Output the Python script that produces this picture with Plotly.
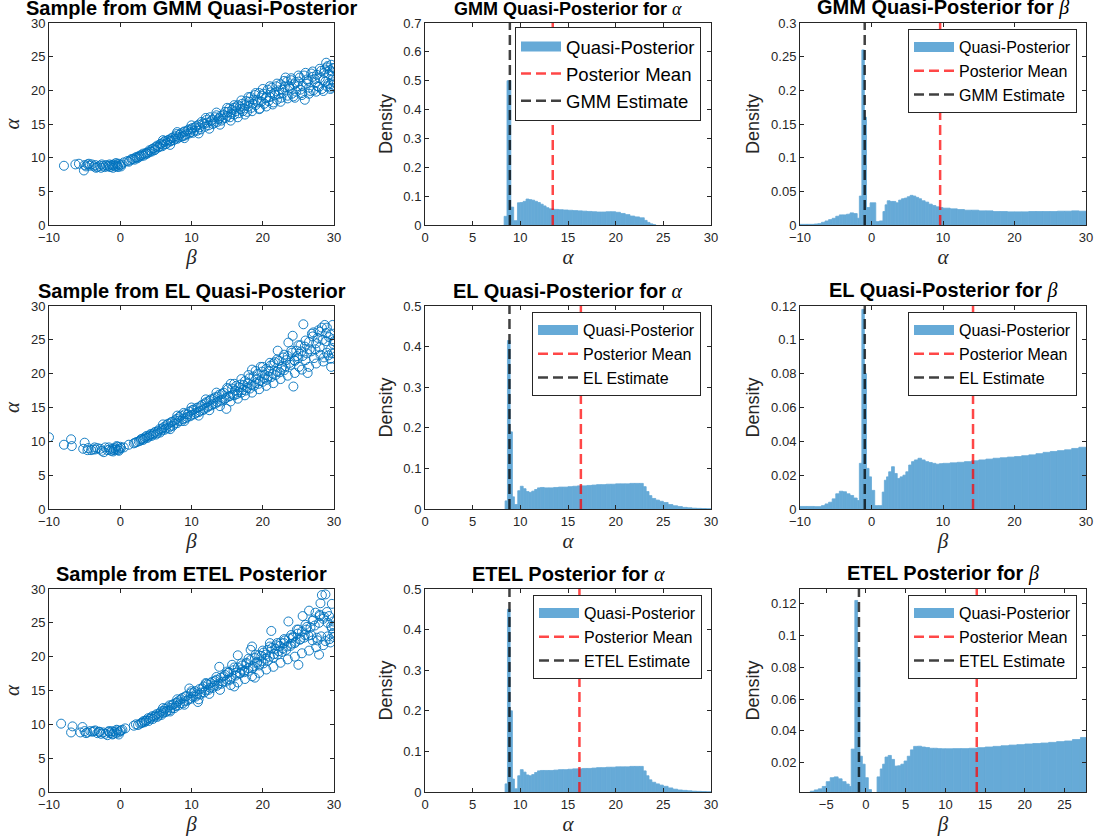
import plotly.graph_objects as go

# ---------------- scatter samples: (beta, alpha) ----------------
gmm_sample = [
    (-7.9, 8.8), (-6.3, 9.0), (-5.8, 9.1), (-5.1, 8.1), (-5.0, 8.9), (-4.8, 8.7), (-4.6, 9.0), (-4.3, 8.8),
    (-4.0, 9.0), (-3.7, 8.7), (-3.5, 8.9), (-3.2, 8.6), (-2.9, 8.8), (-2.7, 8.5), (-2.4, 8.8), (-2.2, 8.6),
    (-2.0, 8.9), (-1.8, 8.7), (-1.6, 8.8), (-1.4, 8.6), (-1.2, 8.9), (-1.0, 8.8), (-0.9, 9.0), (-0.7, 8.7),
    (-0.5, 9.0), (-0.4, 8.8), (-0.2, 9.1), (0.0, 8.9), (0.2, 9.0), (0.5, 9.3),
    (-1.5, 9.0), (-1.0, 8.5), (-0.6, 9.2), (-0.3, 8.6), (0.1, 8.7), (-2.6, 9.0), (-3.4, 8.5), (-4.4, 9.1),
    (1.0, 9.5), (1.4, 9.6), (1.8, 9.8), (2.1, 10.0), (2.4, 9.9), (2.7, 10.3), (3.0, 10.4), (3.3, 10.3),
    (3.6, 10.7), (3.9, 10.8), (4.2, 10.9), (4.5, 11.3), (4.8, 11.1), (5.0, 11.6), (5.3, 11.5), (5.6, 12.0),
    (5.9, 11.7), (6.1, 12.3), (6.4, 12.0), (6.7, 12.6), (7.0, 12.4), (7.2, 12.9), (7.5, 12.6), (7.8, 13.2),
    (8.0, 12.8), (8.3, 13.4), (8.6, 13.1), (8.9, 13.8), (9.1, 13.3), (9.4, 14.0), (9.7, 13.6), (10.0, 14.2),
    (10.2, 13.7), (10.5, 14.5), (10.8, 14.0), (11.0, 14.9), (11.3, 14.2), (11.6, 15.1), (11.9, 14.6), (12.1, 15.6),
    (12.4, 14.8), (12.7, 15.4), (13.0, 15.0), (13.3, 16.0), (13.6, 15.3), (13.9, 15.9), (14.2, 15.5), (14.5, 16.4),
    (14.8, 15.9), (15.1, 16.8), (15.4, 16.0), (15.7, 17.1), (16.0, 16.4), (16.3, 17.5), (16.6, 16.6), (16.9, 17.2),
    (17.2, 16.9), (17.5, 17.8), (17.8, 16.8), (18.1, 18.3), (18.4, 17.4), (18.7, 18.6), (19.0, 17.8), (19.3, 18.2),
    (19.6, 17.3), (19.9, 19.2), (20.2, 18.0), (20.5, 19.0), (20.8, 18.4), (21.1, 19.7), (21.4, 17.9), (21.7, 19.3),
    (22.0, 18.6), (22.3, 20.0), (22.6, 18.9), (22.9, 19.6), (23.2, 21.9), (23.5, 19.2), (23.8, 20.3), (24.1, 19.5),
    (24.4, 20.9), (24.7, 19.8), (25.0, 21.3), (25.3, 20.1), (25.6, 20.7), (25.9, 18.6), (26.2, 21.6), (26.5, 20.4),
    (26.8, 22.5), (27.1, 20.0), (27.4, 21.2), (27.7, 20.6), (28.0, 21.8), (28.3, 20.2), (28.6, 22.6), (28.9, 24.1),
    (29.2, 21.0), (29.4, 23.0), (29.6, 20.4), (29.8, 21.6), (29.9, 23.3), (29.7, 22.8), (29.5, 20.9), (29.1, 23.6),
    (28.8, 21.3),
    (1.2, 9.4), (1.6, 9.8), (2.0, 9.7), (2.3, 10.1), (2.6, 10.1), (2.9, 10.2), (3.2, 10.6), (3.5, 10.5),
    (3.8, 10.6), (4.1, 11.1), (4.4, 10.9), (4.7, 11.4), (4.9, 11.2), (5.2, 11.8), (5.5, 11.6), (5.8, 12.1),
    (6.0, 11.9), (6.3, 12.5), (6.6, 12.2), (6.9, 12.7), (7.1, 12.5), (7.4, 13.0), (7.7, 12.8), (7.9, 13.5),
    (8.2, 13.0), (8.5, 13.6), (8.8, 13.2), (9.0, 13.9), (9.3, 13.5), (9.6, 14.2), (9.9, 13.8), (10.1, 14.4),
    (10.4, 14.0), (10.7, 14.7), (11.1, 14.5), (11.4, 15.3), (11.8, 15.0), (12.2, 15.2), (12.6, 16.0), (12.9, 15.6),
    (13.2, 15.2), (13.5, 16.3), (13.8, 15.7), (14.1, 16.2), (14.4, 15.8), (14.7, 16.8), (15.0, 16.2), (15.3, 17.3),
    (15.6, 16.5), (15.9, 17.4), (16.2, 16.9), (16.5, 17.8), (16.8, 17.6), (17.1, 18.0), (17.4, 17.3), (17.7, 18.4),
    (18.0, 17.6), (18.3, 19.0), (18.6, 18.0), (18.9, 19.3), (19.2, 18.6), (19.5, 19.6), (19.8, 18.3), (20.1, 19.5),
    (20.4, 18.8), (20.7, 20.1), (21.0, 19.0), (21.3, 20.4), (21.6, 19.6), (21.9, 20.6), (22.2, 19.4), (22.5, 20.9),
    (22.8, 20.1), (23.1, 20.5), (23.4, 21.3), (23.7, 20.6), (24.0, 21.5), (24.3, 19.1), (24.6, 21.2), (24.9, 20.6),
    (25.2, 21.9), (25.5, 19.6), (25.8, 22.2), (26.1, 21.0), (26.4, 21.4), (26.7, 19.9), (27.0, 22.0), (27.3, 21.7),
    (27.6, 22.3), (27.9, 20.5), (28.2, 22.9), (28.5, 21.5), (28.7, 23.1), (29.0, 20.6), (29.3, 22.4), (29.6, 23.8),
    (29.9, 20.8), (29.8, 22.2),
    (6.0, 12.6), (7.0, 11.9), (8.0, 13.8), (9.0, 12.9), (10.0, 14.8), (11.0, 13.6), (12.0, 15.9), (12.5, 14.3),
    (13.5, 16.7), (14.0, 14.9), (15.0, 17.4), (15.5, 15.5), (16.0, 17.8), (16.5, 16.0), (17.0, 18.5), (17.5, 16.4),
    (18.0, 19.0), (18.5, 16.9), (19.0, 19.6), (19.5, 17.2), (20.0, 20.2), (20.5, 17.6), (21.0, 20.6), (21.5, 18.2),
    (22.0, 21.0), (22.5, 18.3), (23.0, 21.4), (23.5, 18.8), (24.0, 21.8), (24.5, 18.9), (25.0, 22.2), (25.5, 19.3),
    (26.0, 22.6), (26.5, 19.5), (27.0, 22.8), (27.5, 19.8), (28.0, 23.2), (28.5, 19.9), (29.0, 23.4), (29.5, 20.2),
    (30.0, 21.2), (30.0, 23.3),
]

el_sample = [
    (-10.0, 10.6), (-7.9, 9.5), (-6.9, 10.3), (-6.8, 9.3), (-5.0, 9.8), (-5.2, 8.9), (-4.5, 9.0), (-4.1, 8.7),
    (-3.8, 8.8), (-3.5, 8.8), (-3.2, 9.0), (-2.6, 8.6), (-2.3, 8.4), (-2.1, 9.1), (-1.8, 8.7), (-1.5, 8.8),
    (-1.3, 8.6), (-1.1, 8.9), (-0.9, 8.7), (-0.8, 9.0), (-0.6, 8.8), (-0.4, 9.2), (-0.3, 8.7), (-0.1, 8.9),
    (0.1, 9.0), (0.5, 9.1), (1.2, 9.5), (1.9, 9.7), (2.1, 9.8), (2.3, 9.9),
    (-1.6, 9.1), (-1.0, 8.5), (-0.5, 9.3), (-0.2, 8.6), (0.0, 9.2), (-2.8, 8.9), (-3.6, 9.1), (-4.6, 8.7),
    (2.6, 10.0), (2.9, 10.3), (3.2, 10.2), (3.5, 10.6), (3.8, 10.5), (4.1, 10.9), (4.4, 10.8), (4.7, 11.2),
    (5.0, 11.0), (5.3, 11.5), (5.6, 11.3), (5.9, 11.9), (6.2, 11.7), (6.5, 12.4), (6.8, 12.0), (7.1, 12.8),
    (7.4, 12.3), (7.7, 13.1), (8.0, 12.7), (8.3, 13.6), (8.6, 13.0), (8.9, 14.2), (9.2, 13.4), (9.5, 14.0),
    (9.8, 13.7), (10.1, 14.6), (10.4, 14.0), (10.7, 14.9), (11.0, 14.3), (11.3, 15.2), (11.6, 14.6), (11.9, 15.6),
    (12.2, 15.0), (12.5, 16.0), (12.8, 15.3), (13.1, 16.3), (13.4, 15.6), (13.7, 16.6), (14.0, 15.9), (14.3, 17.0),
    (14.6, 16.2), (14.9, 14.8), (15.2, 16.6), (15.5, 18.5), (15.8, 16.9), (16.1, 17.5), (16.4, 17.0), (16.7, 18.0),
    (17.0, 17.2), (17.3, 18.3), (17.6, 17.5), (17.9, 18.6), (18.2, 17.8), (18.5, 20.6), (18.8, 18.2), (19.1, 19.2),
    (19.4, 18.5), (19.7, 21.0), (20.0, 18.8), (20.3, 19.8), (20.6, 19.1), (20.9, 20.4), (21.2, 19.5), (21.5, 21.5),
    (21.8, 19.8), (22.1, 23.4), (22.4, 20.2), (22.7, 21.0), (23.0, 20.5), (23.3, 22.0), (23.6, 24.6), (23.9, 21.3),
    (24.2, 25.6), (24.3, 18.1), (24.5, 21.9), (24.8, 22.6), (25.1, 21.0), (25.4, 23.3), (25.7, 27.3), (26.0, 22.0),
    (26.3, 20.1), (26.6, 23.6), (26.9, 25.9), (27.2, 22.3), (27.5, 24.5), (27.8, 26.4), (28.1, 22.8), (28.4, 25.0),
    (28.7, 27.2), (29.0, 23.1), (29.3, 25.4), (29.6, 21.0), (29.8, 27.2), (29.9, 24.4), (29.5, 23.6), (28.9, 26.0),
    (2.8, 10.1), (3.1, 10.4), (3.4, 10.4), (3.7, 10.8), (4.0, 10.7), (4.3, 11.1), (4.6, 11.0), (4.9, 11.4),
    (5.2, 11.2), (5.5, 11.8), (5.8, 11.6), (6.1, 12.1), (6.4, 11.9), (6.7, 12.6), (7.0, 12.2), (7.3, 12.9),
    (7.6, 12.6), (7.9, 13.3), (8.2, 13.0), (8.5, 13.8), (8.8, 13.3), (9.1, 14.0), (9.4, 13.6), (9.7, 14.4),
    (10.0, 13.9), (10.3, 14.7), (10.6, 14.2), (10.9, 15.0), (11.2, 14.5), (11.5, 15.4), (11.8, 14.8), (12.1, 15.8),
    (12.4, 15.2), (12.7, 16.2), (13.0, 15.5), (13.3, 16.5), (13.6, 15.8), (13.9, 16.9), (14.2, 16.1), (14.5, 17.2),
    (14.8, 16.4), (15.1, 17.7), (15.4, 16.7), (15.7, 17.8), (16.0, 16.8), (16.3, 18.2), (16.6, 17.3), (16.9, 18.4),
    (17.2, 17.6), (17.5, 18.9), (17.8, 17.9), (18.1, 19.3), (18.4, 18.3), (18.7, 19.6), (19.0, 18.6), (19.3, 20.0),
    (19.6, 18.9), (19.9, 20.3), (20.2, 19.3), (20.5, 20.7), (20.8, 19.6), (21.1, 21.2), (21.4, 20.0), (21.7, 21.7),
    (22.0, 20.3), (22.3, 21.9), (22.6, 20.7), (22.9, 22.4), (23.2, 21.1), (23.5, 22.6), (23.8, 21.6), (24.1, 23.1),
    (24.4, 22.0), (24.7, 23.4), (25.0, 22.3), (25.3, 24.2), (25.6, 22.6), (25.9, 24.0), (26.2, 23.0), (26.5, 24.7),
    (26.8, 23.3), (27.1, 26.1), (27.4, 23.6), (27.7, 25.3), (28.0, 23.9), (28.3, 26.8), (28.6, 22.4), (28.9, 24.8),
    (29.2, 22.7), (29.5, 25.8), (29.7, 23.0), (29.9, 25.1),
    (6.0, 12.5), (7.0, 11.8), (8.0, 13.8), (9.0, 13.0), (10.0, 15.0), (11.0, 13.8), (12.0, 16.2), (12.5, 14.6),
    (13.5, 17.2), (14.0, 15.2), (15.0, 17.9), (15.5, 15.9), (16.0, 18.5), (16.5, 16.3), (17.0, 19.2), (17.5, 16.8),
    (18.0, 19.8), (18.5, 17.2), (19.0, 20.4), (19.5, 17.7), (20.0, 21.0), (20.5, 18.2), (21.0, 21.6), (21.5, 18.6),
    (22.0, 22.1), (22.5, 19.2), (23.0, 22.8), (23.5, 19.7), (24.0, 23.4), (24.5, 20.1), (25.0, 24.2), (25.5, 20.6),
    (26.0, 24.9), (26.5, 21.0), (27.0, 25.5), (27.5, 21.5), (28.0, 26.2), (28.5, 21.8), (29.0, 26.8), (29.5, 22.2),
    (30.0, 24.8), (30.0, 23.0),
]

etel_sample = [
    (-8.3, 10.1), (-6.9, 8.8), (-6.7, 9.7), (-5.6, 8.8), (-5.3, 9.6), (-5.0, 9.0), (-4.6, 8.8), (-4.2, 9.0),
    (-3.9, 8.9), (-3.5, 9.1), (-3.2, 8.7), (-3.0, 8.9), (-2.7, 8.6), (-2.4, 8.8), (-2.1, 8.6), (-1.8, 8.4),
    (-1.6, 8.9), (-1.4, 8.7), (-1.2, 9.0), (-1.0, 8.6), (-0.8, 8.9), (-0.6, 8.7), (-0.4, 9.1), (-0.2, 8.8),
    (0.0, 9.0), (0.3, 9.2), (0.7, 9.4), (1.9, 9.8), (2.2, 10.0), (2.5, 9.9),
    (-1.6, 9.0), (-1.1, 8.5), (-0.5, 9.2), (-0.2, 8.5), (0.1, 9.1), (-2.9, 8.9), (-3.7, 9.0), (-4.8, 8.7),
    (2.8, 10.1), (3.1, 10.3), (3.4, 10.3), (3.7, 10.6), (4.0, 10.5), (4.3, 11.0), (4.6, 10.8), (4.9, 11.3),
    (5.2, 11.1), (5.5, 11.6), (5.8, 11.4), (6.1, 12.0), (6.4, 11.8), (6.7, 12.5), (7.0, 12.1), (7.3, 12.9),
    (7.6, 12.4), (7.9, 13.2), (8.2, 12.8), (8.5, 13.7), (8.8, 13.1), (9.1, 14.1), (9.4, 13.5), (9.7, 15.3),
    (10.0, 13.8), (10.3, 14.7), (10.6, 14.1), (10.9, 13.3), (11.2, 14.4), (11.5, 15.3), (11.8, 14.7), (12.1, 16.0),
    (12.4, 15.1), (12.7, 16.1), (13.0, 15.4), (13.3, 16.4), (13.6, 15.7), (13.9, 18.5), (14.2, 16.0), (14.5, 17.1),
    (14.8, 16.3), (15.1, 17.6), (15.4, 16.6), (15.7, 18.8), (16.0, 15.6), (16.3, 17.6), (16.5, 20.2), (16.8, 17.5),
    (17.1, 18.1), (17.4, 17.7), (17.7, 18.9), (18.0, 17.9), (18.3, 21.0), (18.6, 18.3), (18.5, 21.5), (18.9, 16.9),
    (19.2, 19.2), (19.5, 18.7), (19.8, 20.1), (20.1, 19.0), (20.4, 20.3), (20.7, 19.4), (21.0, 22.0), (21.2, 23.8),
    (21.5, 19.9), (21.8, 21.2), (22.1, 20.3), (22.4, 21.6), (22.7, 20.7), (23.0, 22.0), (23.3, 21.0), (23.6, 25.2),
    (23.9, 21.6), (24.2, 22.8), (24.5, 22.0), (24.8, 24.0), (25.0, 18.8), (25.3, 22.6), (25.6, 26.0), (25.9, 23.2),
    (26.2, 24.4), (26.5, 26.8), (26.8, 23.2), (27.1, 25.5), (27.4, 26.5), (27.7, 22.4), (27.9, 20.3), (28.1, 27.9),
    (28.3, 29.1), (28.6, 25.9), (28.8, 29.2), (29.1, 23.0), (29.3, 26.0), (29.6, 24.5), (29.7, 27.8), (29.9, 25.2),
    (3.0, 10.2), (3.3, 10.5), (3.6, 10.5), (3.9, 10.9), (4.2, 10.8), (4.5, 11.2), (4.8, 11.1), (5.1, 11.5),
    (5.4, 11.3), (5.7, 11.9), (6.0, 11.7), (6.3, 12.3), (6.6, 12.0), (6.9, 12.8), (7.2, 12.4), (7.5, 13.0),
    (7.8, 12.7), (8.1, 13.4), (8.4, 13.1), (8.7, 13.9), (9.0, 13.4), (9.3, 14.2), (9.6, 13.7), (9.9, 14.6),
    (10.2, 14.1), (10.5, 14.9), (10.8, 14.4), (11.1, 15.2), (11.4, 14.7), (11.7, 15.6), (12.0, 15.0), (12.3, 15.9),
    (12.6, 15.4), (12.9, 16.3), (13.2, 15.7), (13.5, 16.6), (13.8, 16.0), (14.1, 16.9), (14.4, 16.3), (14.7, 17.3),
    (15.0, 16.6), (15.3, 17.7), (15.6, 16.9), (15.9, 18.0), (16.2, 17.2), (16.5, 18.4), (16.8, 17.6), (17.1, 18.7),
    (17.4, 17.9), (17.7, 19.1), (18.0, 18.3), (18.3, 19.5), (18.6, 18.6), (18.9, 19.8), (19.2, 19.0), (19.5, 20.2),
    (19.8, 19.3), (20.1, 20.6), (20.4, 19.7), (20.7, 21.0), (21.0, 20.0), (21.3, 21.3), (21.6, 20.4), (21.9, 21.7),
    (22.2, 20.8), (22.5, 22.1), (22.8, 21.2), (23.1, 22.4), (23.4, 21.5), (23.7, 22.7), (24.0, 21.9), (24.3, 23.0),
    (24.6, 22.2), (24.9, 23.4), (25.2, 22.5), (25.5, 23.7), (25.8, 22.8), (26.1, 24.0), (26.4, 23.1), (26.7, 24.3),
    (27.0, 22.4), (27.3, 24.6), (27.6, 22.8), (27.9, 25.0), (28.2, 23.0), (28.5, 25.6), (28.8, 22.3), (29.1, 25.0),
    (29.4, 22.6), (29.7, 24.2), (29.9, 23.5), (28.0, 26.2),
    (6.0, 12.4), (7.0, 11.9), (8.0, 13.7), (9.0, 12.9), (10.0, 14.9), (11.0, 13.7), (12.0, 16.1), (12.5, 14.5),
    (13.5, 17.0), (14.0, 15.1), (15.0, 17.8), (15.5, 15.8), (16.0, 18.4), (16.5, 16.2), (17.0, 19.0), (17.5, 16.7),
    (18.0, 19.7), (18.5, 17.1), (19.0, 20.3), (19.5, 17.6), (20.0, 20.9), (20.5, 18.1), (21.0, 21.5), (21.5, 18.5),
    (22.0, 22.0), (22.5, 19.1), (23.0, 22.6), (23.5, 19.6), (24.0, 23.2), (24.5, 20.0), (25.0, 24.0), (25.5, 20.5),
    (26.0, 24.7), (26.5, 20.9), (27.0, 25.3), (27.5, 21.4), (28.0, 26.0), (28.5, 21.7), (29.0, 26.6), (29.5, 22.1),
    (30.0, 24.6), (30.0, 22.9),
]

# ---------------- histogram bins (edges) and densities ----------------
gmm_alpha_edges = [8.3, 8.6, 9.0, 9.3, 9.7, 10.0, 10.3, 10.6, 10.9, 11.2, 11.5, 11.8, 12.1, 12.4, 12.7, 13.0,
                   13.5, 14, 14.5, 15, 15.5, 16, 16.5, 17, 17.5, 18, 18.5, 19, 19.5, 20, 20.5, 21, 21.5, 22,
                   22.5, 23, 23.3, 23.6, 23.9, 24.2]
gmm_alpha_density = [0.03, 0.50, 0.062, 0.015, 0.077, 0.078, 0.082, 0.09, 0.088, 0.086, 0.082, 0.078, 0.072,
                     0.066, 0.06, 0.056, 0.054, 0.053, 0.052, 0.051, 0.05, 0.049, 0.048, 0.047, 0.046, 0.045,
                     0.045, 0.046, 0.046, 0.044, 0.04, 0.036, 0.031, 0.028, 0.025, 0.016, 0.009, 0.004, 0.001]

beta_tail_edges = [10, 11, 12, 13, 14, 15, 16, 17, 18, 19, 20, 21, 22, 23, 24, 25, 26, 27, 28, 29, 30]

gmm_beta_edges = [-10, -9, -8, -7.5, -7, -6.5, -6, -5.5, -5, -4.5, -4, -3.5, -3, -2.5, -2.0, -1.7, -1.35,
                  -1.0, -0.7, -0.2, 0.6, 1.1, 1.6, 1.9, 2.2, 2.6, 3.0, 3.4, 3.8, 4.2, 4.6, 5.0, 5.4, 5.8,
                  6.2, 6.6, 7.0, 7.5, 8, 8.5, 9, 9.5] + beta_tail_edges
gmm_beta_density = [0.001, 0.001, 0.0015, 0.002, 0.004, 0.006, 0.008, 0.010, 0.013, 0.015, 0.015, 0.016,
                    0.018, 0.017, 0.01, 0.043, 0.26, 0.16, 0.026, 0.033, 0.005, 0.006, 0.02, 0.03, 0.036,
                    0.035, 0.035, 0.033, 0.037, 0.039, 0.04, 0.042, 0.044, 0.043, 0.041, 0.039, 0.036, 0.034,
                    0.031, 0.029, 0.027, 0.026,
                    0.025, 0.024, 0.023, 0.022, 0.022, 0.021, 0.021, 0.020, 0.020, 0.0195, 0.0195, 0.0195,
                    0.02, 0.02, 0.02, 0.02, 0.0205, 0.0205, 0.021, 0.0205]

el_alpha_edges = [8.4, 8.65, 8.93, 9.17, 9.38, 9.73, 10.0, 10.3, 10.6, 10.9, 11.2, 11.5, 11.8, 12.1, 12.5,
                  13, 13.5, 14, 14.5, 15, 15.5, 16, 16.5, 17, 17.5, 18, 18.5, 19, 19.5, 20, 20.5, 21, 21.5,
                  22, 22.5, 22.9, 23.2, 23.5, 23.8, 24.2, 24.6, 25, 25.5, 26, 26.5, 27, 27.5, 28, 28.5, 29,
                  29.5, 30]
el_alpha_density = [0.02, 0.415, 0.19, 0.03, 0.011, 0.045, 0.056, 0.05, 0.043, 0.041,
                    0.044, 0.048, 0.052, 0.053, 0.052, 0.052, 0.053, 0.054, 0.054, 0.055,
                    0.056, 0.057, 0.057, 0.058, 0.059, 0.06, 0.06, 0.061, 0.061, 0.062,
                    0.062, 0.062, 0.063, 0.063, 0.063, 0.055, 0.043, 0.033, 0.026, 0.022,
                    0.019, 0.016, 0.011, 0.008, 0.006, 0.004, 0.003, 0.002, 0.0015, 0.001, 0.0005]

el_beta_edges = [-10, -9, -8, -7, -6.5, -6, -5.5, -5, -4.5, -4, -3.5, -3, -2.5, -2, -1.7, -1.35, -1.0,
                 -0.7, -0.35, 0.0, 0.45, 1.0, 1.5, 1.8, 2.1, 2.4, 2.8, 3.2, 3.6, 4.0, 4.4, 4.8, 5.2, 5.6,
                 6.0, 6.5, 7.0, 7.5, 8, 8.5, 9, 9.5] + beta_tail_edges
el_beta_density = [0.0015, 0.0015, 0.0014, 0.002, 0.003, 0.004, 0.006, 0.009, 0.0105, 0.0102,
                   0.009, 0.008, 0.0065, 0.005, 0.027, 0.118, 0.08, 0.024, 0.019,
                   0.011, 0.002, 0.002, 0.01, 0.017, 0.019, 0.022, 0.025, 0.021, 0.018,
                   0.019, 0.02, 0.022, 0.026, 0.028, 0.029, 0.03, 0.029, 0.028, 0.0275,
                   0.027, 0.0265, 0.0268,
                   0.027, 0.0273, 0.0276, 0.028, 0.0285, 0.029, 0.0295, 0.03, 0.0303, 0.0307,
                   0.031, 0.0315, 0.032, 0.0327, 0.0335, 0.034, 0.0345, 0.035, 0.0358, 0.0365]

etel_alpha_edges = el_alpha_edges
etel_alpha_density = [0.02, 0.45, 0.2, 0.032, 0.008, 0.04, 0.055, 0.049, 0.042, 0.04,
                      0.043, 0.048, 0.052, 0.053, 0.053, 0.053, 0.054, 0.055, 0.055, 0.056,
                      0.057, 0.057, 0.058, 0.058, 0.059, 0.06, 0.06, 0.061, 0.061, 0.062,
                      0.062, 0.062, 0.063, 0.063, 0.063, 0.052, 0.04, 0.03, 0.024, 0.02,
                      0.017, 0.014, 0.01, 0.007, 0.005, 0.004, 0.003, 0.002, 0.0015, 0.001, 0.0005]

etel_beta_edges = [-8.3, -7.5, -7, -6.5, -6, -5.5, -5, -4.5, -4, -3.5, -3, -2.5, -2.1, -1.85, -1.4, -1.05,
                   -0.75, -0.45, -0.1, 0.3, 0.7, 1.4, 1.8, 2.1, 2.4, 2.8, 3.2, 3.6, 4.0, 4.4, 4.8, 5.2, 5.6,
                   6.0, 6.5, 7, 7.5, 8, 8.5, 9, 9.5, 10, 11, 12, 13, 14, 15, 16, 17, 18, 19, 20, 21, 22, 23,
                   24, 25, 26, 27, 27.7]
etel_beta_density = [0.001, 0.0012, 0.002, 0.0028, 0.0035, 0.005, 0.008, 0.0105, 0.011,
                     0.0098, 0.008, 0.0065, 0.005, 0.0285, 0.122, 0.085, 0.024, 0.019, 0.0105,
                     0.003, 0.001, 0.011, 0.016, 0.019, 0.0235, 0.0245, 0.022, 0.0178, 0.018,
                     0.019, 0.021, 0.024, 0.028, 0.0302, 0.0303, 0.0298, 0.0295, 0.029, 0.029,
                     0.0288, 0.0287,
                     0.0287, 0.0288, 0.0288, 0.029, 0.0294, 0.0298, 0.0302, 0.0306, 0.031, 0.0313,
                     0.0317, 0.032, 0.0323, 0.0327, 0.0332, 0.0336, 0.0345, 0.0358]

# point estimates and posterior means
gmm_alpha_est, gmm_alpha_mean = 8.9, 13.4
gmm_beta_est, gmm_beta_mean = -0.95, 9.6
el_alpha_est, el_alpha_mean = 8.86, 16.35
el_beta_est, el_beta_mean = -0.94, 14.2
etel_alpha_est, etel_alpha_mean = 8.86, 16.2
etel_beta_est, etel_beta_mean = -0.88, 13.95

# ---------------- layout helpers ----------------
FIG_W, FIG_H = 1106, 839
COL_PX = [(49, 334), (425, 711), (800, 1086)]
ROW_PX = [(23, 225), (306, 509), (589, 792)]


def fx(px):
    return px / FIG_W


def fy(py):
    return 1 - py / FIG_H


SANS = "Liberation Sans, Arial, Helvetica, sans-serif"
SERIF = "Liberation Serif, Times New Roman, serif"
BLUE = "#0072BD"
BAR = "#66AAD7"
RED = "rgba(255,0,0,0.72)"
DARK = "rgba(0,0,0,0.75)"
AXC = "#262626"

fig = go.Figure()


def ax_id(r, c):
    k = r * 3 + c + 1
    return ("" if k == 1 else str(k)), k


def fmt(v):
    return f"{v:g}".replace("-", "\u2212")


def setup_axes(r, c, xr, yr, xt, yt, xtitle, ytitle, ytitle_serif):
    s, k = ax_id(r, c)
    x0, x1 = COL_PX[c]
    y0, y1 = ROW_PX[r]
    common = dict(showline=True, linecolor=AXC, linewidth=1, mirror="ticks", ticks="inside",
                  ticklen=4, tickwidth=1, tickcolor=AXC, showgrid=False, zeroline=False,
                  tickfont=dict(family=SANS, size=13, color=AXC), fixedrange=True, automargin=False)
    xa = dict(common, domain=[fx(x0), fx(x1)], range=xr, tickvals=xt,
              ticktext=[fmt(v) for v in xt], anchor="y" + s,
              title=dict(text="<i>" + xtitle + "</i>", font=dict(family=SERIF, size=21, color=AXC),
                         standoff=4))
    ya = dict(common, domain=[fy(y1), fy(y0)], range=yr, tickvals=yt,
              ticktext=[fmt(v) for v in yt], anchor="x" + s,
              title=dict(text=("<i>" + ytitle + "</i>") if ytitle_serif else ytitle,
                         font=dict(family=SERIF if ytitle_serif else SANS,
                                   size=21 if ytitle_serif else 18, color=AXC),
                         standoff=8 if ytitle_serif else 6))
    fig.update_layout({"xaxis" + s: xa, "yaxis" + s: ya})
    return s


def add_title(r, c, html, size):
    x0, x1 = COL_PX[c]
    y0, _ = ROW_PX[r]
    fig.add_annotation(x=fx((x0 + x1) / 2), y=fy(y0), xref="paper", yref="paper",
                       text=html, showarrow=False, xanchor="center", yanchor="bottom", yshift=2,
                       font=dict(family=SANS, size=size, color="black"))


def greek(ch):
    return "<span style=\"font-family:'Liberation Serif'\"><i>" + ch + "</i></span>"


def add_scatter(r, c, pts, title):
    s = setup_axes(r, c, [-10, 30], [0, 30], [-10, 0, 10, 20, 30], [0, 5, 10, 15, 20, 25, 30],
                   "β", "α", True)
    fig.add_trace(go.Scatter(x=[p[0] for p in pts], y=[p[1] for p in pts], mode="markers",
                             marker=dict(symbol="circle-open", size=9, color=BLUE, line=dict(width=0.9)),
                             xaxis="x" + s, yaxis="y" + s, showlegend=False))
    add_title(r, c, "<b>" + title + "</b>", 20)


def add_hist(r, c, edges, dens, est, mean, est_name, xr, yr, xt, yt, xtitle, title_html, title_size,
             legend_name, legend_right, legend_top, legend_size):
    if len(edges) != len(dens) + 1:
        raise ValueError("edges/density mismatch in " + legend_name)
    s = setup_axes(r, c, xr, yr, xt, yt, xtitle, "Density", False)
    centers = [(edges[i] + edges[i + 1]) / 2 for i in range(len(dens))]
    widths = [edges[i + 1] - edges[i] for i in range(len(dens))]
    fig.add_trace(go.Bar(x=centers, y=dens, width=widths,
                         marker=dict(color=BAR, line=dict(width=0.8, color=BAR)),
                         xaxis="x" + s, yaxis="y" + s, showlegend=False))
    # legend swatch for the histogram
    fig.add_trace(go.Scatter(x=[None], y=[None], mode="lines", name="Quasi-Posterior",
                             line=dict(color=BAR, width=10), xaxis="x" + s, yaxis="y" + s,
                             legend=legend_name))
    fig.add_trace(go.Scatter(x=[mean, mean], y=yr, mode="lines", name="Posterior Mean",
                             line=dict(color=RED, width=2.5, dash="10px,5px"),
                             xaxis="x" + s, yaxis="y" + s, legend=legend_name))
    fig.add_trace(go.Scatter(x=[est, est], y=yr, mode="lines", name=est_name,
                             line=dict(color=DARK, width=2.5, dash="10px,5px"),
                             xaxis="x" + s, yaxis="y" + s, legend=legend_name))
    fig.update_layout({legend_name: dict(x=fx(legend_right), y=fy(legend_top),
                                         xanchor="right", yanchor="top", bgcolor="white",
                                         bordercolor=AXC, borderwidth=1, itemwidth=40,
                                         font=dict(family=SANS, size=legend_size, color="black"),
                                         tracegroupgap=0)})
    add_title(r, c, title_html, title_size)


a_ticks = [0, 5, 10, 15, 20, 25, 30]
b_ticks = [-10, 0, 10, 20, 30]

# row 1: GMM
add_scatter(0, 0, gmm_sample, "Sample from GMM Quasi-Posterior")
add_hist(0, 1, gmm_alpha_edges, gmm_alpha_density, gmm_alpha_est, gmm_alpha_mean, "GMM Estimate",
         [0, 30], [0, 0.7], a_ticks, [0, 0.1, 0.2, 0.3, 0.4, 0.5, 0.6, 0.7], "α",
         "<b>GMM Quasi-Posterior for </b>" + greek("α"), 18, "legend", 701, 27, 18.5)
add_hist(0, 2, gmm_beta_edges, gmm_beta_density, gmm_beta_est, gmm_beta_mean, "GMM Estimate",
         [-10, 30], [0, 0.3], b_ticks, [0, 0.05, 0.1, 0.15, 0.2, 0.25, 0.3], "α",
         "<b>GMM Quasi-Posterior for </b>" + greek("β"), 20, "legend2", 1077, 29, 16)

# row 2: EL
add_scatter(1, 0, el_sample, "Sample from EL Quasi-Posterior")
add_hist(1, 1, el_alpha_edges, el_alpha_density, el_alpha_est, el_alpha_mean, "EL Estimate",
         [0, 30], [0, 0.5], a_ticks, [0, 0.1, 0.2, 0.3, 0.4, 0.5], "α",
         "<b>EL Quasi-Posterior for </b>" + greek("α"), 20, "legend3", 701, 312, 16)
add_hist(1, 2, el_beta_edges, el_beta_density, el_beta_est, el_beta_mean, "EL Estimate",
         [-10, 30], [0, 0.12], b_ticks, [0, 0.02, 0.04, 0.06, 0.08, 0.1, 0.12], "β",
         "<b>EL Quasi-Posterior for </b>" + greek("β"), 20, "legend4", 1077, 312, 16)

# row 3: ETEL
add_scatter(2, 0, etel_sample, "Sample from ETEL Posterior")
add_hist(2, 1, etel_alpha_edges, etel_alpha_density, etel_alpha_est, etel_alpha_mean, "ETEL Estimate",
         [0, 30], [0, 0.5], a_ticks, [0, 0.1, 0.2, 0.3, 0.4, 0.5], "α",
         "<b>ETEL Posterior for </b>" + greek("α"), 20, "legend5", 702, 595, 16)
add_hist(2, 2, etel_beta_edges, etel_beta_density, etel_beta_est, etel_beta_mean, "ETEL Estimate",
         [-8.3, 27.7], [0.0015, 0.1292], [-5, 0, 5, 10, 15, 20, 25], [0.02, 0.04, 0.06, 0.08, 0.1, 0.12],
         "β", "<b>ETEL Posterior for </b>" + greek("β"), 20, "legend6", 1077, 595, 16)

fig.update_layout(width=FIG_W, height=FIG_H, margin=dict(l=0, r=0, t=0, b=0, autoexpand=False),
                  paper_bgcolor="white", plot_bgcolor="white", barmode="overlay",
                  font=dict(family=SANS, color=AXC), hovermode=False)

# the figure fills the whole window: drop the page's default body margin
fig.write_html("out.html", config={"displayModeBar": False},
               post_script="document.body.style.margin='0px';document.body.style.overflow='hidden';")
